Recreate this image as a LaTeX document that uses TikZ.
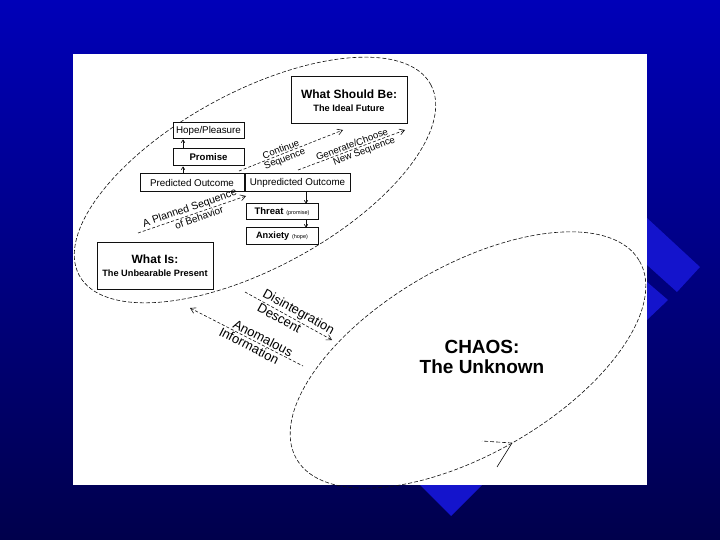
\documentclass[tikz,border=0pt]{standalone}
\usepackage{fontspec}
\setmainfont{Liberation Sans}
\usepackage{tikz}
\usetikzlibrary{positioning, arrows.meta, calc}
\definecolor{cSlideTop}{HTML}{0000B8}
\definecolor{cSlideBot}{HTML}{00004C}
\definecolor{cDeco}{HTML}{1414CC}
\definecolor{cDecoDk}{HTML}{00007C}
\definecolor{cInk}{HTML}{101010}
\tikzset{
  box/.style={
    rectangle, draw=cInk, line width=1pt, fill=white, inner sep=0pt,
    minimum height=17pt, align=center, font=\fontsize{9.8}{11}\selectfont
  },
  bigbox/.style={
    box, minimum width=116pt, minimum height=47pt
  },
  realm/.style={draw=cInk, line width=0.6pt, dash pattern=on 4pt off 2pt},
  pathlabel/.style={font=\fontsize{9.6}{11}\selectfont, inner sep=1.2pt, sloped},
  biglabel/.style={font=\fontsize{13}{14}\selectfont, inner sep=1.5pt, sloped},
  flow/.style={draw=cInk, line width=0.6pt, dash pattern=on 3pt off 2pt,
    -{Straight Barb[length=5pt,width=6pt]}},
  flowback/.style={flow, {Straight Barb[length=5pt,width=6pt]}-},
  link/.style={draw=cInk, line width=0.7pt, -{Straight Barb[length=2.5pt,width=3.5pt]}},
}

\begin{document}
\begin{tikzpicture}[x=1pt, y=-1pt]

  \useasboundingbox (0,0) rectangle (720,540);
  \shade[top color=cSlideTop, bottom color=cSlideBot] (0,0) rectangle (720,540);
  \fill[cDecoDk] (647,262) -- (681,293) -- (669,305) -- (647,285) -- cycle;
  \fill[cDeco] (647,218) -- (700,267) -- (677,292) -- (647,265) -- cycle;
  \fill[cDeco] (647,282) -- (668,300) -- (647,320) -- cycle;
  \fill[cDeco] (420,485) -- (482,485) -- (451,516) -- cycle;
  \fill[white] (73,54) rectangle (647,485);

  \draw[realm, rotate around={28.5:(255,180)}] (255,180) ellipse [x radius=200, y radius=88];
  \draw[realm, rotate around={30:(468,360)}] (468,360) ellipse [x radius=198, y radius=94];

  \coordinate (loop) at (512,443);
  \draw[realm] (loop) -- ++(-30,-2);
  \draw[cInk, line width=0.6pt] (loop) -- ++(-15,24);

  \node[bigbox] (ideal) at (349,100.5)
    {{\fontsize{12}{14}\selectfont\bfseries What Should Be:}\\[2pt]
     {\fontsize{9.2}{11}\selectfont\bfseries The Ideal Future}};

  \node[box, minimum width=71pt, minimum height=16pt] (hope) at (208.5,131) {Hope/Pleasure};
  \node[box, minimum width=71pt, below=9pt of hope, font=\fontsize{9.6}{11}\selectfont\bfseries] (prom) {Promise};

  \node[box, minimum width=104pt, minimum height=18pt] (pred) at (192,183) {Predicted Outcome};
  \node[box, minimum width=105pt, minimum height=18pt, right=0pt of pred] (unpred) {Unpredicted Outcome};

  \node[box, minimum width=72pt, minimum height=16pt] (threat) at (282,212)
    {{\fontsize{9.5}{11}\selectfont\bfseries Threat} {\fontsize{5.5}{6}\selectfont(promise)}};
  \node[box, minimum width=72pt, minimum height=16pt, below=7pt of threat] (anx)
    {{\fontsize{9.2}{11}\selectfont\bfseries Anxiety} {\fontsize{5.5}{6}\selectfont(hope)}};

  \node[bigbox] (present) at (155,265.5)
    {{\fontsize{12}{14}\selectfont\bfseries What Is:}\\[2pt]
     {\fontsize{9.2}{11}\selectfont\bfseries The Unbearable Present}};

  \node[font=\fontsize{19}{20}\selectfont\bfseries, align=center] (chaos) at (482,357)
    {CHAOS:\\The Unknown};

  \coordinate (lcol) at (183,0);
  \coordinate (rcol) at (306,0);
  \draw[link] (pred.north -| lcol) -- (prom.south -| lcol);
  \draw[link] (prom.north -| lcol) -- (hope.south -| lcol);
  \draw[link] (unpred.south -| rcol) -- (threat.north -| rcol);
  \draw[link] (threat.south -| rcol) -- (anx.north -| rcol);

  \coordinate (pA1) at (138,233);
  \coordinate (pA2) at (246,196);
  \coordinate (cA1) at (239,171);
  \coordinate (cA2) at (343,130);
  \coordinate (gA1) at (298,170);
  \coordinate (gA2) at (405,130);
  \coordinate (dA1) at (245,292);
  \coordinate (dA2) at (332,340);
  \coordinate (aA1) at (190,308);
  \coordinate (aA2) at (303,366);

  \draw[flow] (pA1) -- (pA2)
    node[pathlabel, pos=0.5, above, font=\fontsize{10.5}{12}\selectfont] {A Planned Sequence}
    node[pathlabel, pos=0.55, below, font=\fontsize{10}{12}\selectfont] {of Behavior};
  \draw[flow] (cA1) -- (cA2)
    node[pathlabel, pos=0.42, above] {Continue}
    node[pathlabel, pos=0.42, below] {Sequence};
  \draw[flow] (gA1) -- (gA2)
    node[pathlabel, pos=0.52, above] {Generate/Choose}
    node[pathlabel, pos=0.6, below] {New Sequence};
  \draw[flow] (dA1) -- (dA2)
    node[biglabel, pos=0.57, above] {Disintegration}
    node[biglabel, pos=0.43, below] {Descent};
  \draw[flowback] (aA1) -- (aA2)
    node[biglabel, pos=0.62, above] {Anomalous}
    node[biglabel, pos=0.55, below] {Information};

\end{tikzpicture}
\end{document}
